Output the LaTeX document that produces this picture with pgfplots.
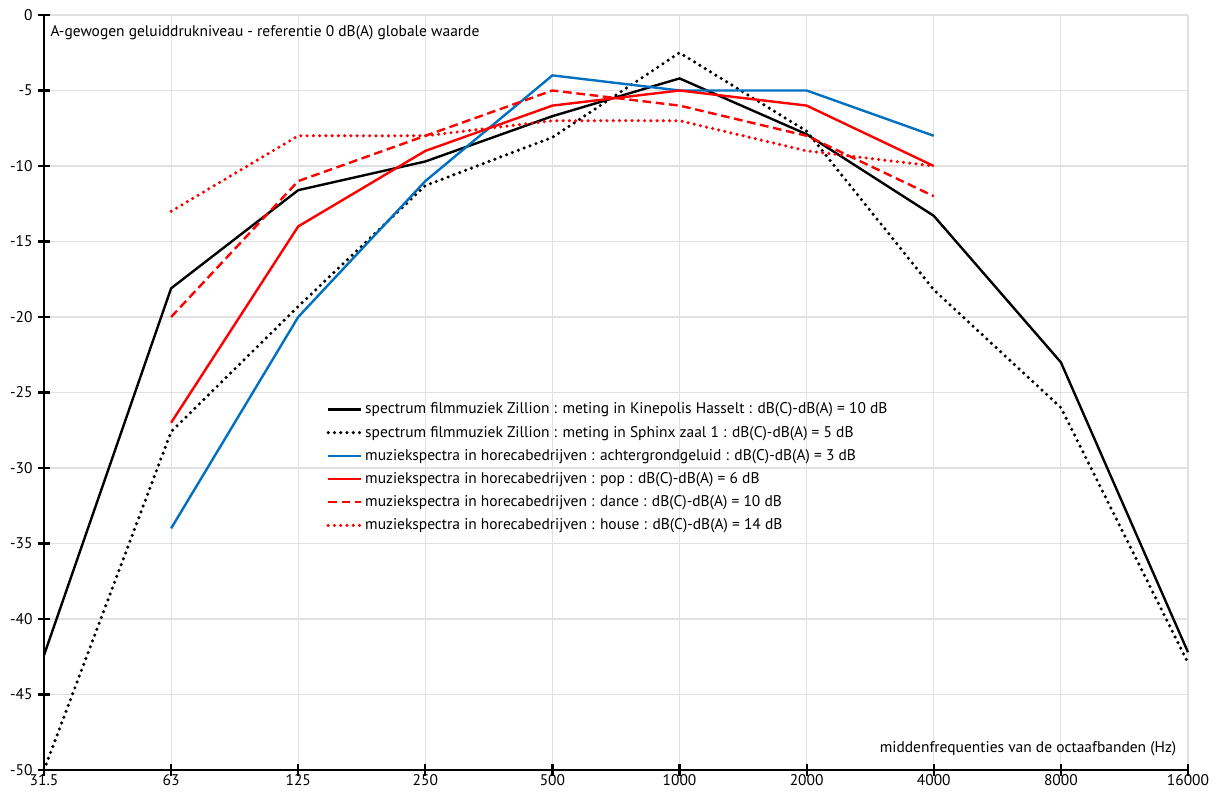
\documentclass[border=0pt]{standalone}
\usepackage{pgfplots}
\pgfplotsset{compat=1.18}
\usepackage{fontspec}
\setmainfont{PT Sans}
\definecolor{myblue}{RGB}{0,112,192}
\definecolor{gridgray}{RGB}{225,225,225}
\begin{document}
\fontsize{11.6}{13.5}\selectfont
\begin{tikzpicture}
\begin{axis}[
  scale only axis,
  width=858pt, height=566.25pt,
  xmin=0, xmax=9, ymin=-50, ymax=0,
  xtick={0,1,2,3,4,5,6,7,8,9},
  xticklabels={31.5,63,125,250,500,1000,2000,4000,8000,16000},
  ytick={-50,-45,-40,-35,-30,-25,-20,-15,-10,-5,0},
  yticklabels={-50,-45,-40,-35,-30,-25,-20,-15,-10,-5,0},
  axis lines=left,
  axis line style={-, draw=black, line width=1.8pt},
  grid=major,
  major grid style={draw=gridgray, line width=0.9pt},
  tick align=center,
  major tick length=9pt,
  tick style={draw=black, line width=1.6pt},
  tick label style={font=\fontsize{11.6}{13.5}\selectfont},
  xticklabel style={yshift=2.5pt, inner sep=1.5pt},
  /pgf/number format/assume math mode=true,
  legend style={at={(0.2455,0.492)}, anchor=north west, draw=none, fill=none,
    font=\fontsize{11.6}{13.5}\selectfont, row sep=3.4pt, inner sep=1pt},
  legend cell align=left,
  legend image code/.code={\draw[#1] (0cm,0cm) -- (0.86cm,0cm);},
  clip=false,
]
\addplot[black, line width=1.8pt] coordinates {
(0,-42.4) (1,-18.1) (2,-11.6) (3,-9.7) (4,-6.7) (5,-4.2) (6,-7.9) (7,-13.3) (8,-23.0) (9,-42.2)};
\addlegendentry{spectrum filmmuziek Zillion : meting in Kinepolis Hasselt : dB(C)-dB(A) = 10 dB}
\addplot[black, line width=2.6pt, line cap=round, dash pattern=on 0pt off 4.7pt] coordinates {
(0,-50) (1,-27.6) (2,-19.3) (3,-11.3) (4,-8.1) (5,-2.5) (6,-7.7) (7,-18.2) (8,-26.0) (9,-42.9)};
\addlegendentry{spectrum filmmuziek Zillion : meting in Sphinx zaal 1 : dB(C)-dB(A) = 5 dB}
\addplot[myblue, line width=1.8pt] coordinates {
(1,-34) (2,-20) (3,-11) (4,-4) (5,-5) (6,-5) (7,-8)};
\addlegendentry{muziekspectra in horecabedrijven : achtergrondgeluid : dB(C)-dB(A) = 3 dB}
\addplot[red, line width=1.8pt] coordinates {
(1,-27) (2,-14) (3,-9) (4,-6) (5,-5) (6,-6) (7,-10)};
\addlegendentry{muziekspectra in horecabedrijven : pop : dB(C)-dB(A) = 6 dB}
\addplot[red, line width=1.8pt, dash pattern=on 6.5pt off 3.5pt] coordinates {
(1,-20) (2,-11) (3,-8) (4,-5) (5,-6) (6,-8) (7,-12)};
\addlegendentry{muziekspectra in horecabedrijven : dance : dB(C)-dB(A) = 10 dB}
\addplot[red, line width=2.6pt, line cap=round, dash pattern=on 0pt off 4.7pt] coordinates {
(1,-13) (2,-8) (3,-8) (4,-7) (5,-7) (6,-9) (7,-10)};
\addlegendentry{muziekspectra in horecabedrijven : house : dB(C)-dB(A) = 14 dB}
\node[anchor=north west, inner sep=0pt] at (rel axis cs:0.0055,0.987) {A-gewogen geluiddrukniveau - referentie 0 dB(A) globale waarde};
\node[anchor=south east, inner sep=0pt] at (rel axis cs:0.990,0.018) {middenfrequenties van de octaafbanden (Hz)};
\end{axis}
\pgfresetboundingbox
\path[use as bounding box] (-33pt,-16.5pt) rectangle (879.75pt,577.5pt);
\end{tikzpicture}
\end{document}
